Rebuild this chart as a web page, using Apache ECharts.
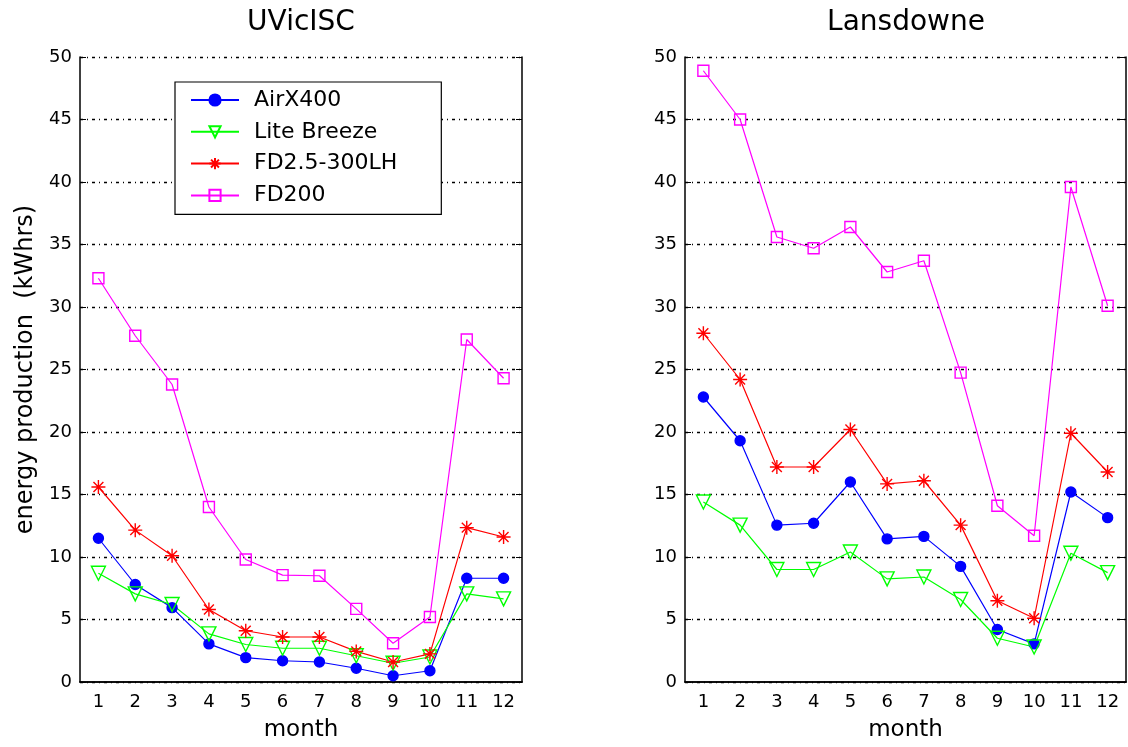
<!DOCTYPE html>
<html>
<head>
<meta charset="utf-8">
<style>
  html, body { margin: 0; padding: 0; background: #fff; }
  #main { width: 1128px; height: 747px; }
</style>
<script src="https://cdn.jsdelivr.net/npm/echarts@6/dist/echarts.min.js"></script>
</head>
<body>
<div id="main"></div>
<script>
// months on the x axis
var months = ['1', '2', '3', '4', '5', '6', '7', '8', '9', '10', '11', '12'];
var yTicks = [0, 50, 5]; // min, max, step

var seriesNames = ['AirX400', 'Lite Breeze', 'FD2.5-300LH', 'FD200'];

// UVicISC (kWhrs)
var uvicAirX = [11.5, 7.8, 5.95, 3.05, 1.95, 1.7, 1.6, 1.1, 0.5, 0.9, 8.3, 8.3];
var uvicLite = [8.7, 7.05, 6.2, 3.85, 3.0, 2.7, 2.7, 2.1, 1.5, 2.0, 7.05, 6.65];
var uvicFD25 = [15.6, 12.15, 10.1, 5.8, 4.1, 3.6, 3.6, 2.45, 1.6, 2.25, 12.35, 11.6];
var uvicFD200 = [32.3, 27.7, 23.8, 14.0, 9.8, 8.55, 8.5, 5.85, 3.1, 5.2, 27.4, 24.3];

// Lansdowne (kWhrs)
var lanAirX = [22.8, 19.3, 12.55, 12.7, 16.0, 11.45, 11.65, 9.25, 4.2, 3.05, 15.2, 13.15];
var lanLite = [14.4, 12.55, 9.0, 9.0, 10.4, 8.25, 8.4, 6.6, 3.5, 2.8, 10.3, 8.75];
var lanFD25 = [27.9, 24.2, 17.2, 17.2, 20.2, 15.85, 16.1, 12.55, 6.5, 5.1, 19.9, 16.8];
var lanFD200 = [48.9, 45.0, 35.6, 34.7, 36.4, 32.8, 33.7, 24.75, 14.1, 11.7, 39.6, 30.1];

var FONT = 'DejaVu Sans';
var asterisk = 'path://M0,-10L0,10M-10,0L10,0M-7.07,-7.07L7.07,7.07M-7.07,7.07L7.07,-7.07';

// marker / colour look per series name
var looks = {
  'AirX400': { color: '#0000ff', symbol: 'circle', size: 10, fill: '#0000ff', rotate: 0 },
  'Lite Breeze': { color: '#00ff00', symbol: 'triangle', size: 14, fill: 'transparent', rotate: 180 },
  'FD2.5-300LH': { color: '#ff0000', symbol: asterisk, size: 14, fill: 'transparent', rotate: 0 },
  'FD200': { color: '#ff00ff', symbol: 'rect', size: 11, fill: 'transparent', rotate: 0 }
};

function makeSeries(name, data, axisIdx) {
  var lk = looks[name];
  return {
    name: name,
    type: 'line',
    xAxisIndex: axisIdx,
    yAxisIndex: axisIdx,
    data: data,
    symbol: lk.symbol,
    symbolSize: lk.size,
    symbolRotate: lk.rotate,
    showAllSymbol: true,
    lineStyle: { color: lk.color, width: 1.2 },
    itemStyle: { color: lk.fill, borderColor: lk.color, borderWidth: 1.4 },
    emphasis: { disabled: true }
  };
}

function bottomX(gridIdx) {
  return {
    type: 'category', gridIndex: gridIdx, data: months, boundaryGap: true,
    name: 'month', nameLocation: 'middle', nameGap: 37,
    nameTextStyle: { fontFamily: FONT, fontSize: 23, color: '#000' },
    axisLine: { lineStyle: { color: '#000', width: 1.5 } },
    axisTick: { inside: true, alignWithLabel: true, length: 6, lineStyle: { color: '#000' } },
    axisLabel: { fontFamily: FONT, fontSize: 18, color: '#000', margin: 11 },
    splitLine: { show: false }
  };
}
function topX(gridIdx) {
  return {
    type: 'category', gridIndex: gridIdx, data: months, boundaryGap: true, position: 'top',
    axisLine: { lineStyle: { color: '#000', width: 1.5 } },
    axisTick: { inside: true, alignWithLabel: true, length: 6, lineStyle: { color: '#000' } },
    axisLabel: { show: false }, splitLine: { show: false }
  };
}
function leftY(gridIdx, withName) {
  var ax = {
    type: 'value', gridIndex: gridIdx, min: yTicks[0], max: yTicks[1], interval: yTicks[2],
    axisLine: { show: true, lineStyle: { color: '#000', width: 1.5 } },
    axisTick: { show: true, inside: true, length: 6, lineStyle: { color: '#000' } },
    axisLabel: { fontFamily: FONT, fontSize: 18, color: '#000', margin: 8 },
    splitLine: { show: true, lineStyle: { color: '#000', width: 1.3, type: [3, 4, 1, 4] } }
  };
  if (withName) {
    ax.name = 'energy production  (kWhrs)';
    ax.nameLocation = 'middle';
    ax.nameGap = 42;
    ax.nameTextStyle = { fontFamily: FONT, fontSize: 24, color: '#000' };
  }
  return ax;
}
function rightY(gridIdx) {
  return {
    type: 'value', gridIndex: gridIdx, min: yTicks[0], max: yTicks[1], interval: yTicks[2], position: 'right',
    axisLine: { show: true, lineStyle: { color: '#000', width: 1.5 } },
    axisTick: { show: true, inside: true, length: 6, lineStyle: { color: '#000' } },
    axisLabel: { show: false }, splitLine: { show: false }
  };
}

var chart = echarts.init(document.getElementById('main'));
chart.setOption({
  animation: false,
  backgroundColor: '#fff',
  title: [
    { text: 'UVicISC', left: 301, top: 9, textAlign: 'center', padding: 0,
      textStyle: { fontFamily: FONT, fontSize: 28, fontWeight: 'normal', color: '#000' } },
    { text: 'Lansdowne', left: 906, top: 9, textAlign: 'center', padding: 0,
      textStyle: { fontFamily: FONT, fontSize: 28, fontWeight: 'normal', color: '#000' } }
  ],
  legend: {
    data: seriesNames,
    orient: 'vertical',
    left: 175, top: 82,
    padding: [5, 44, 6, 15],
    itemWidth: 48, itemHeight: 14, itemGap: 5.8,
    borderColor: '#000', borderWidth: 1.2, borderRadius: 0,
    backgroundColor: '#fff',
    selectedMode: false,
    textStyle: { fontFamily: FONT, fontSize: 22, color: '#000', lineHeight: 26, padding: [0, 0, 0, 10] }
  },
  grid: [
    { left: 80, top: 57, width: 442, height: 628 },
    { left: 685, top: 57, width: 441, height: 628 }
  ],
  xAxis: [bottomX(0), topX(0), bottomX(1), topX(1)],
  yAxis: [leftY(0, true), rightY(0), leftY(1, false), rightY(1)],
  series: [
    makeSeries('AirX400', uvicAirX, 0),
    makeSeries('Lite Breeze', uvicLite, 0),
    makeSeries('FD2.5-300LH', uvicFD25, 0),
    makeSeries('FD200', uvicFD200, 0),
    makeSeries('AirX400', lanAirX, 2),
    makeSeries('Lite Breeze', lanLite, 2),
    makeSeries('FD2.5-300LH', lanFD25, 2),
    makeSeries('FD200', lanFD200, 2)
  ]
});
window.addEventListener('resize', function () { chart.resize(); });
</script>
</body>
</html>
